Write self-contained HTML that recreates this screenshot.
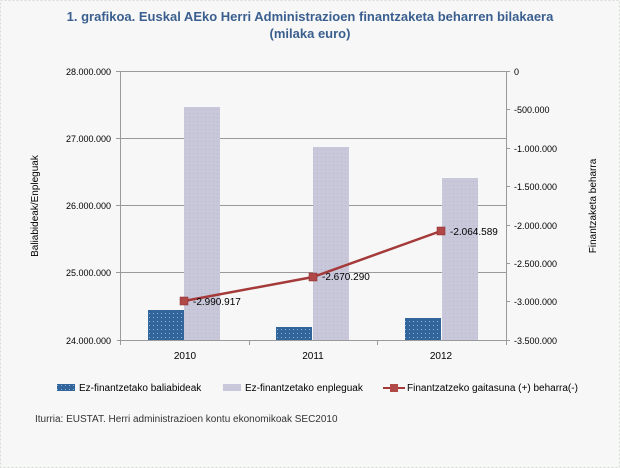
<!DOCTYPE html>
<html><head><meta charset="utf-8"><style>
body{margin:0;background:#f7f7f7;}
svg{display:block;font-family:"Liberation Sans",sans-serif;}
</style></head><body>
<svg width="620" height="468" viewBox="0 0 620 468">
<defs>
<pattern id="pb" width="4" height="4" patternUnits="userSpaceOnUse"><rect width="4" height="4" fill="#31659b"/><rect x="1" y="1" width="1" height="1" fill="#8fb0d0"/></pattern>
<pattern id="pg" width="4" height="4" patternUnits="userSpaceOnUse"><rect width="4" height="4" fill="#c9c8da"/><rect x="1" y="1" width="1" height="1" fill="#b7b6ca"/></pattern>
</defs>
<rect x="0.5" y="0.5" width="619" height="467" fill="#f7f7f7" stroke="#d8dcd8" stroke-dasharray="2,2"/>
<text x="310" y="21" text-anchor="middle" font-size="13" font-weight="bold" fill="#3a5f8f">1. grafikoa. Euskal AEko Herri Administrazioen finantzaketa beharren bilakaera</text>
<text x="310" y="38" text-anchor="middle" font-size="13" font-weight="bold" fill="#3a5f8f">(milaka euro)</text>
<g stroke="#9a9a9a" stroke-width="1">
<line x1="120" y1="71.5" x2="506" y2="71.5"/>
<line x1="120" y1="138.5" x2="506" y2="138.5"/>
<line x1="120" y1="205.5" x2="506" y2="205.5"/>
<line x1="120" y1="272.5" x2="506" y2="272.5"/>
<line x1="120.5" y1="71" x2="120.5" y2="340"/>
<line x1="506.5" y1="71" x2="506.5" y2="340"/>
</g>
<rect x="148" y="310" width="36" height="30" fill="url(#pb)"/>
<rect x="184" y="107" width="36" height="233" fill="url(#pg)"/>
<rect x="276" y="327" width="36" height="13" fill="url(#pb)"/>
<rect x="313" y="147" width="36" height="193" fill="url(#pg)"/>
<rect x="405" y="318" width="36" height="22" fill="url(#pb)"/>
<rect x="442" y="178" width="36" height="162" fill="url(#pg)"/>
<g stroke="#9a9a9a">
<line x1="117" y1="340.5" x2="506" y2="340.5"/>
<line x1="120.5" y1="340" x2="120.5" y2="345"/><line x1="249.5" y1="340" x2="249.5" y2="345"/><line x1="377.5" y1="340" x2="377.5" y2="345"/><line x1="506.5" y1="340" x2="506.5" y2="345"/>
<line x1="116" y1="71.5" x2="120" y2="71.5"/><line x1="116" y1="138.5" x2="120" y2="138.5"/><line x1="116" y1="205.5" x2="120" y2="205.5"/><line x1="116" y1="272.5" x2="120" y2="272.5"/>
<line x1="506" y1="71.5" x2="510" y2="71.5"/><line x1="506" y1="109.5" x2="510" y2="109.5"/><line x1="506" y1="148.5" x2="510" y2="148.5"/><line x1="506" y1="186.5" x2="510" y2="186.5"/><line x1="506" y1="225.5" x2="510" y2="225.5"/><line x1="506" y1="263.5" x2="510" y2="263.5"/><line x1="506" y1="301.5" x2="510" y2="301.5"/><line x1="506" y1="340.5" x2="510" y2="340.5"/>
</g>
<g font-size="9" fill="#000" text-anchor="end">
<text x="111" y="75">28.000.000</text><text x="111" y="142">27.000.000</text><text x="111" y="209">26.000.000</text><text x="111" y="276">25.000.000</text><text x="111" y="344">24.000.000</text>
</g>
<g font-size="9" fill="#000">
<text x="514" y="75">0</text><text x="514" y="113">-500.000</text><text x="514" y="152">-1.000.000</text><text x="514" y="190">-1.500.000</text><text x="514" y="229">-2.000.000</text><text x="514" y="267">-2.500.000</text><text x="514" y="305">-3.000.000</text><text x="514" y="344">-3.500.000</text>
</g>
<g font-size="10" text-anchor="middle"><text x="185" y="359">2010</text><text x="313" y="359">2011</text><text x="441" y="359">2012</text></g>
<text transform="translate(38,206) rotate(-90)" font-size="10" text-anchor="middle">Baliabideak/Enpleguak</text>
<text transform="translate(596,206) rotate(-90)" font-size="10" text-anchor="middle">Finantzaketa beharra</text>
<polyline points="184,301 313,277 441,231" fill="none" stroke="#a53a3a" stroke-width="2.5"/>
<g fill="#b04848" stroke="#8a2a2a" stroke-width="0.5"><rect x="180" y="297" width="8" height="8"/><rect x="309" y="273" width="8" height="8"/><rect x="437" y="227" width="8" height="8"/></g>
<g font-size="10"><text x="193" y="305">-2.990.917</text><text x="322" y="280">-2.670.290</text><text x="450" y="235">-2.064.589</text></g>
<rect x="57" y="384" width="18" height="7" fill="url(#pb)"/>
<text x="79" y="391" font-size="10">Ez-finantzetako baliabideak</text>
<rect x="223" y="384" width="18" height="7" fill="#c9c8da"/>
<text x="245" y="391" font-size="10">Ez-finantzetako enpleguak</text>
<line x1="383" y1="388" x2="405" y2="388" stroke="#a53a3a" stroke-width="2"/>
<rect x="390" y="384" width="8" height="8" fill="#b04848"/>
<text x="407" y="391" font-size="10">Finantzatzeko gaitasuna (+) beharra(-)</text>
<text x="35" y="422" font-size="10" fill="#333">Iturria: EUSTAT. Herri administrazioen kontu ekonomikoak SEC2010</text>
</svg>
</body></html>
